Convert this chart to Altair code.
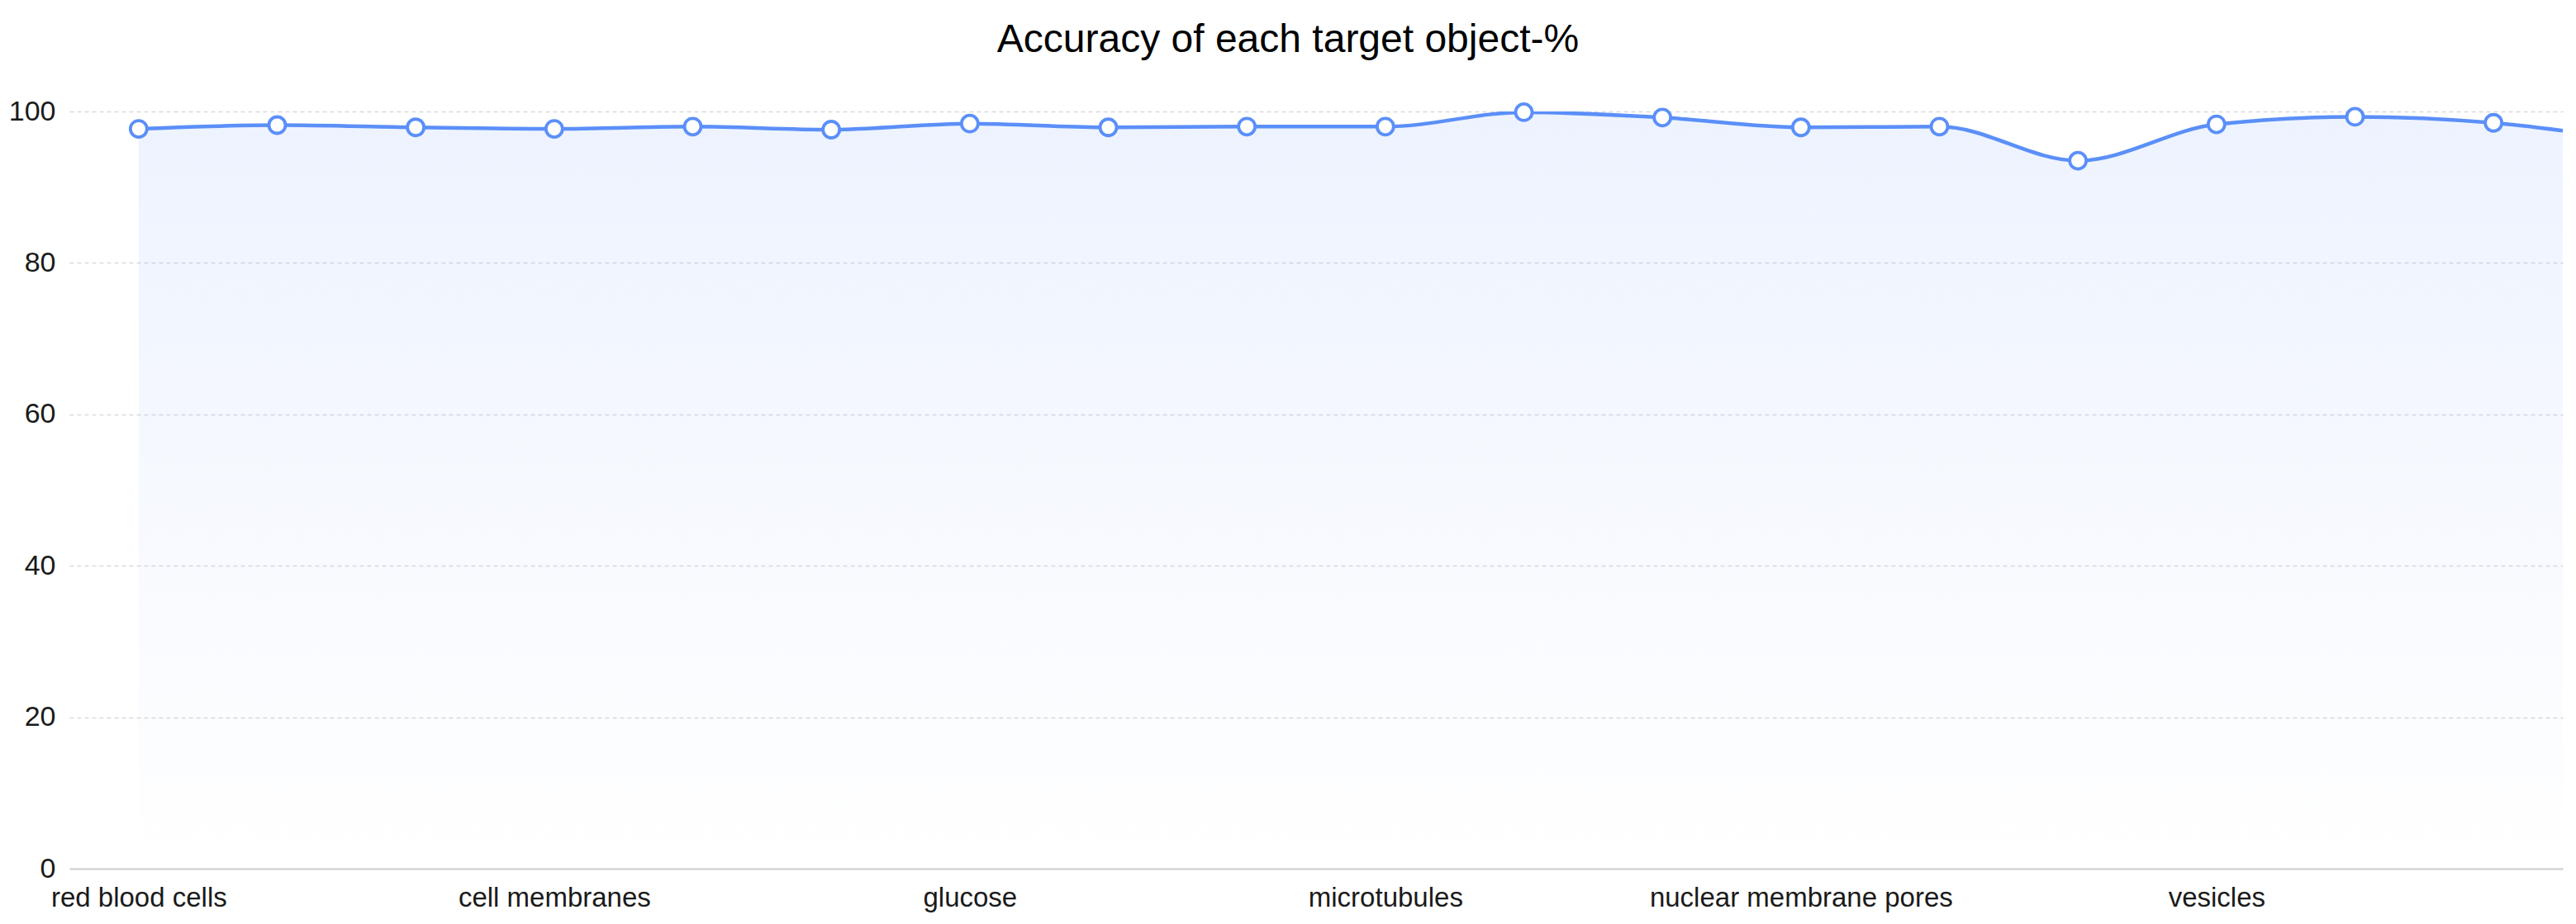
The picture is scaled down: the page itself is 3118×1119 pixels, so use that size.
import json
import altair as alt
import pandas as pd

# ---- data ----
categories = [
    "red blood cells", "white blood cells", "platelets",
    "cell membranes", "mitochondria", "ribosomes",
    "glucose", "proteins", "DNA",
    "microtubules", "actin filaments", "nuclei",
    "nuclear membrane pores", "lysosomes", "Golgi apparatus",
    "vesicles", "endoplasmic reticulum", "chloroplasts",
    "centrioles",
]
values = [97.7, 98.2, 97.9, 97.7, 98.0, 97.6, 98.4, 97.9, 98.0, 98.0,
          99.9, 99.2, 97.9, 98.0, 93.5, 98.3, 99.3, 98.5, 96.2]
shown_label_idx = [0, 3, 6, 9, 12, 15]
y_ticks = [0, 20, 40, 60, 80, 100]
n_visible = 18

df = pd.DataFrame({"idx": list(range(len(values))), "name": categories, "value": values})

BLUE = "#5b8ff9"
FONT = "Liberation Sans"

x_enc = alt.X(
    "idx:Q",
    scale=alt.Scale(domain=[-0.5, n_visible - 0.5], nice=False, zero=False),
    axis=alt.Axis(
        values=shown_label_idx,
        labelExpr=json.dumps(categories) + "[datum.value]",
        grid=False, ticks=False, domain=True,
        domainColor="#d6d6d6", domainWidth=2.5,
        labelFont=FONT, labelFontSize=33, labelColor="#1a1a1a", labelLimit=0,
        labelPadding=19, labelFlush=False, labelOverlap=False, title=None,
    ),
)
y_enc = alt.Y(
    "value:Q",
    scale=alt.Scale(domain=[0, 100], nice=False),
    axis=alt.Axis(
        values=y_ticks, grid=True, gridDash=[5, 4], gridColor="#dadada", gridWidth=1.5,
        domain=False, ticks=False,
        labelFont=FONT, labelFontSize=34, labelColor="#1a1a1a",
        labelPadding=17, title=None,
    ),
)

base = alt.Chart(df).encode(x=x_enc, y=y_enc)

area = base.mark_area(
    interpolate="monotone", clip=True,
    color=alt.Gradient(
        gradient="linear",
        stops=[
            alt.GradientStop(color="rgba(91,143,249,0.11)", offset=0),
            alt.GradientStop(color="rgba(91,143,249,0.0)", offset=1),
        ],
        x1=1, x2=1, y1=0, y2=1,
    ),
)
line = base.mark_line(interpolate="monotone", clip=True, color=BLUE, strokeWidth=4.5)
points = base.mark_point(
    shape="circle", filled=True, fill="white", fillOpacity=1,
    stroke=BLUE, strokeWidth=3.8, strokeOpacity=1, size=400, opacity=1,
).transform_filter(alt.datum.idx < n_visible)

chart = (
    alt.layer(area, line, points)
    .properties(
        width=3018, height=917,
        autosize="none",
        padding={"left": 76, "top": 127, "right": 8, "bottom": 59},
        title=alt.TitleParams(
            "Accuracy of each target object-%",
            font=FONT, fontSize=48, fontWeight="normal",
            color="#000", anchor="middle", dx=-34, baseline="alphabetic",
            offset=0, dy=-7,
        ),
    )
    .configure_view(stroke=None)
)

chart.save("out.html", embed_options={"renderer": "svg", "actions": False})
